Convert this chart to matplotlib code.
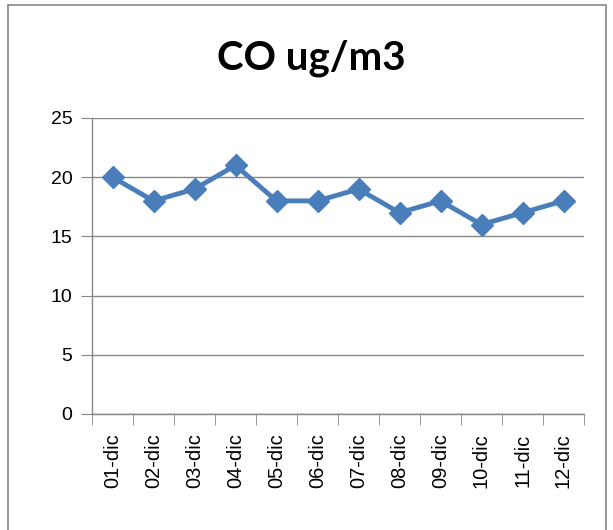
import matplotlib.pyplot as plt
import matplotlib.patches as patches
import numpy as np

days = ['01-dic', '02-dic', '03-dic', '04-dic', '05-dic', '06-dic',
        '07-dic', '08-dic', '09-dic', '10-dic', '11-dic', '12-dic']
co_values = [20, 18, 19, 21, 18, 18, 19, 17, 18, 16, 17, 18]
y_ticks = [0, 5, 10, 15, 20, 25]

fig = plt.figure(figsize=(6.13, 5.3), dpi=100)
ax = fig.add_axes([92/613, 1-414/530, (584-92)/613, (414-118)/530])

x = np.arange(len(days))
ax.plot(x, co_values, color='#4A7EBB', linewidth=3.5, marker='D', markersize=11,
        markerfacecolor='#4A7EBB', markeredgecolor='#4A7EBB')

ax.set_xlim(-0.5, len(days) - 0.5)
ax.set_ylim(0, 25)
ax.set_yticks(y_ticks)
ax.set_yticklabels([str(v) for v in y_ticks], fontsize=14, family='Liberation Sans')
ax.set_xticks(x)
ax.set_xticklabels(days, rotation=90, fontsize=14.5, family='Liberation Sans')
ax.set_xticks(np.arange(-0.5, len(days)), minor=True)
ax.tick_params(axis='x', which='major', length=0, pad=14)
ax.tick_params(axis='x', which='minor', length=8, color='#868686')
ax.tick_params(axis='y', length=8, color='#868686', pad=6)

ax.grid(axis='y', color='#868686', linewidth=1)
ax.set_axisbelow(True)
for s in ['top', 'right']:
    ax.spines[s].set_visible(False)
for s in ['left', 'bottom']:
    ax.spines[s].set_color('#868686')
    ax.spines[s].set_linewidth(1)

fig.text(311/613, 1-58/530, 'CO ug/m3', ha='center', va='center',
         fontsize=29, fontweight='bold', family='Lato')

border = patches.Rectangle((8/613, -0.05), (606-8)/613, 1.05 - 5/530,
                           transform=fig.transFigure, fill=False,
                           edgecolor='#868686', linewidth=1.2, clip_on=False)
fig.add_artist(border)

fig.savefig('out.png', dpi=100)
